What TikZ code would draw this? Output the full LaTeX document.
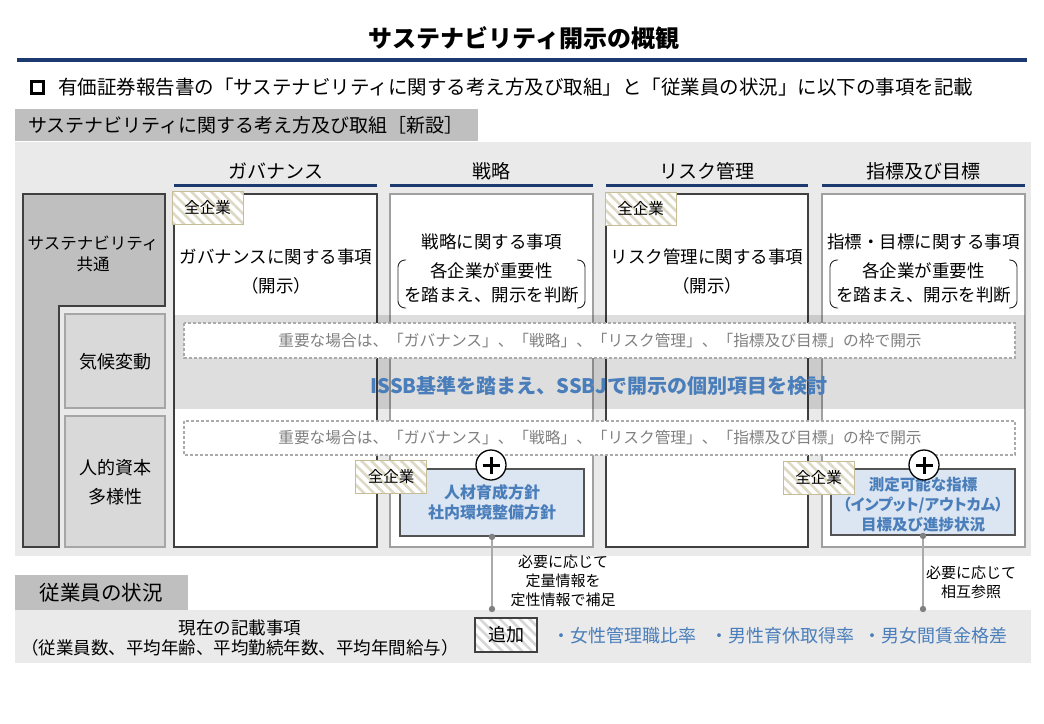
\documentclass[tikz,border=0pt]{standalone}
\usepackage{fontspec}
\setmainfont{Noto Sans CJK JP}
\newfontfamily\paltfont{Noto Sans CJK JP}[RawFeature=+palt]
\usetikzlibrary{patterns.meta}
\definecolor{navy}{RGB}{28,58,112}
\definecolor{bluet}{RGB}{74,126,187}
\definecolor{bfill}{RGB}{220,230,242}
\definecolor{lgrey}{RGB}{191,191,191}
\definecolor{bgc}{RGB}{234,234,234}
\definecolor{subg}{RGB}{217,217,217}
\definecolor{subb}{RGB}{166,166,166}
\definecolor{darkb}{RGB}{64,64,64}
\definecolor{greyb}{RGB}{160,160,160}
\definecolor{dashb}{RGB}{170,170,170}
\definecolor{dtext}{RGB}{128,128,128}
\definecolor{tagstripe}{RGB}{222,217,196}
\definecolor{tagborder}{RGB}{196,189,151}
\definecolor{addstripe}{RGB}{215,215,215}
\definecolor{connc}{RGB}{170,170,170}
\definecolor{dotc}{RGB}{128,128,128}
\newcommand\fsz[2]{\fontsize{#1}{#2}\selectfont}
\begin{document}
\begin{tikzpicture}[x=1pt,y=-1pt,
  txt/.style={inner sep=0pt, align=center},
  hdr/.style={txt, font=\fsz{19}{22}},
  body/.style={txt, font=\fsz{17.5}{29}},
  brk/.style={txt, font=\fsz{17.5}{24}},
  uline/.style={navy, line width=3pt},
  strongbox/.style={draw=darkb, line width=1.5pt, fill=white},
  softbox/.style={draw=greyb, line width=1.2pt, fill=white},
  subbox/.style={draw=subb, line width=1.5pt, fill=subg},
  dashbox/.style={draw=dashb, dash pattern=on 3pt off 2pt, line width=1.2pt, fill=white},
  dtxt/.style={txt, text=dtext, font=\fsz{15.7}{19}},
  tagbox/.style={draw=tagborder, line width=1pt, preaction={fill=white},
     pattern={Lines[angle=-45,distance=7pt,line width=2.6pt]}, pattern color=tagstripe,
     minimum width=71pt, minimum height=33pt, inner sep=0pt, font=\fsz{15.5}{18}},
  addbox/.style={draw=darkb, line width=1.3pt, preaction={fill=white},
     pattern={Lines[angle=-45,distance=7pt,line width=2.6pt]}, pattern color=addstripe,
     minimum width=62pt, minimum height=34pt, inner sep=0pt, font=\fsz{18}{20}},
  bbox/.style={draw=darkb!90, line width=1.8pt, fill=bfill, text=bluet, align=center, inner sep=0pt},
  btxt/.style={txt, text=bluet},
  plus/.style={circle, draw=black, line width=1.3pt, fill=white, minimum size=30pt, inner sep=0pt,
     path picture={\draw[line width=3pt] ([xshift=-8.5pt]path picture bounding box.center) -- ([xshift=8.5pt]path picture bounding box.center);
                   \draw[line width=3pt] ([yshift=-8.5pt]path picture bounding box.center) -- ([yshift=8.5pt]path picture bounding box.center);}},
  bracket/.style={line width=0.9pt, rounded corners=7pt, draw=black!85},
  conn/.style={connc, line width=1.8pt},
  note/.style={txt, font=\fsz{15}{19}},
  item/.style={inner sep=0pt, anchor=west, text=bluet, font=\fsz{18}{20}}
]
\useasboundingbox (0,0) rectangle (1044,723);
\fill[white] (0,0) rectangle (1044,723);

% title
\node[txt, font=\bfseries\fsz{24}{28}] (title) at (524,38) {サステナビリティ開示の概観};
\draw[navy, line width=4pt] (17,60) -- (1027,60);

% lead line
\node[draw=black, line width=2.4pt, minimum size=12pt, inner sep=0pt] (sq) at (37.5,87.5) {};
\node[txt, anchor=west, font=\fsz{19.5}{22}] (lead) at (58,87) {有価証券報告書の「サステナビリティに関する考え方及び取組」と「従業員の状況」に以下の事項を記載};

% section label
\fill[lgrey] (15,109) rectangle (478,141);
\node[txt, anchor=west, font=\fsz{19}{22}] (lab) at (28,125) {サステナビリティに関する考え方及び取組［新設］};

% background
\fill[bgc] (15,142) rectangle (1031,556);

% headers
\node[hdr] (hg) at (276,171) {ガバナンス};
\node[hdr] (hs) at (491.5,171) {戦略};
\node[hdr] (hr) at (707,171) {リスク管理};
\node[hdr] (hm) at (923.5,171) {指標及び目標};
\draw[uline] (174,185) -- (377,185);
\draw[uline] (390,185) -- (593,185);
\draw[uline] (606,185) -- (808,185);
\draw[uline] (822,185) -- (1025,185);

% column boxes
\draw[strongbox] (174,194) rectangle (377,547);
\draw[softbox] (390,194) rectangle (593,547);
\draw[strongbox] (606,194) rectangle (808,547);
\draw[softbox] (822,194) rectangle (1025,547);

% left structure
\draw[draw=darkb, line width=1.3pt, fill=lgrey] (23,194) -- (165,194) -- (165,306) -- (59,306) -- (59,547) -- (23,547) -- cycle;
\draw[subbox] (65,314) rectangle (165,408);
\draw[subbox] (65,416) rectangle (165,547);
\node[txt, font=\fsz{16.5}{21}] (common) at (93,253.5) {サステナビリティ\\共通};
\node[txt, font=\fsz{18}{22}] (climate) at (115,362) {気候変動};
\node[txt, font=\fsz{18}{29}] (human) at (115,482.5) {人的資本\\多様性};

% climate band
\fill[black, opacity=0.13] (174,315) rectangle (1025,409);

% dashed boxes
\draw[dashbox] (184,323) rectangle (1015,358);
\node[dtxt] (d1) at (600,340.5) {重要な場合は、「ガバナンス」、「戦略」、「リスク管理」、「指標及び目標」の枠で開示};
\draw[dashbox] (184,421) rectangle (1015,455);
\node[dtxt] (d2) at (600,438) {重要な場合は、「ガバナンス」、「戦略」、「リスク管理」、「指標及び目標」の枠で開示};
\node[txt, font=\bfseries\fsz{20}{24}, text=bluet] (issb) at (599,386) {ISSB基準を踏まえ、SSBJで開示の個別項目を検討};

% column texts
\node[body] (gtx) at (276,271.5) {ガバナンスに関する事項\\（開示）};
\node[body] (rtx) at (707,271.5) {リスク管理に関する事項\\（開示）};
\node[brk] (stt) at (491.5,242) {戦略に関する事項};
\node[brk] (stx) at (491.5,283) {各企業が重要性\\を踏まえ、開示を判断};
\node[brk] (mtt) at (923.5,242) {指標・目標に関する事項};
\node[brk] (mtx) at (923.5,283) {各企業が重要性\\を踏まえ、開示を判断};
\draw[bracket] (406,260) -- (398,260) -- (398,308) -- (406,308);
\draw[bracket] (577,260) -- (585,260) -- (585,308) -- (577,308);
\draw[bracket] (838,260) -- (830,260) -- (830,308) -- (838,308);
\draw[bracket] (1009,260) -- (1017,260) -- (1017,308) -- (1009,308);

% tags
\node[tagbox] (tg1) at (207.5,208) {全企業};
\node[tagbox] (tg2) at (640.5,208.5) {全企業};

% blue boxes
\node[bbox, minimum width=184pt, minimum height=67pt, font=\bfseries\fsz{16}{20}] (hrbox) at (492,502.5) {人材育成方針\\社内環境整備方針};
\node[bbox, minimum width=184pt, minimum height=66pt] (kpibox) at (923,502) {};
\node[btxt, font=\bfseries\fsz{15.5}{20}] (kpitxt) at (923,505) {測定可能な指標\\{\paltfont（インプット/アウトカム）}\\目標及び進捗状況};
\node[tagbox] (tg3) at (391,477) {全企業};
\node[tagbox] (tg4) at (818.5,477.5) {全企業};
\node[plus] (p1) at (491,465) {};
\node[plus] (p2) at (924,465) {};

% employee section
\node[note] (n1) at (563,581) {必要に応じて\\定量情報を\\定性情報で補足};
\node[note] (n2) at (971,582.5) {必要に応じて\\相互参照};
\fill[lgrey] (15,575) rectangle (188,610);
\node[txt, font=\fsz{20.5}{22}] (emp) at (101,593) {従業員の状況};
\fill[bgc] (15,610) rectangle (1031,663);
\node[txt, font=\fsz{17.5}{20}] (cur) at (240,638) {現在の記載事項\\（従業員数、平均年齢、平均勤続年数、平均年間給与）};
\node[addbox] (add) at (506,635) {追加};
\node[item] (i1) at (552,636) {・女性管理職比率};
\node[item] (i2) at (710,636) {・男性育休取得率};
\node[item] (i3) at (863,636) {・男女間賃金格差};

% connectors
\coordinate (e1) at (492,609);
\coordinate (e2) at (923,609);
\draw[conn] (hrbox.south) -- (e1);
\draw[conn] (kpibox.south) -- (e2);
\fill[dotc] (hrbox.south) circle (3.2);
\fill[dotc] (e1) circle (3.2);
\fill[dotc] (kpibox.south) circle (3.2);
\fill[dotc] (e2) circle (3.2);
\end{tikzpicture}
\end{document}
